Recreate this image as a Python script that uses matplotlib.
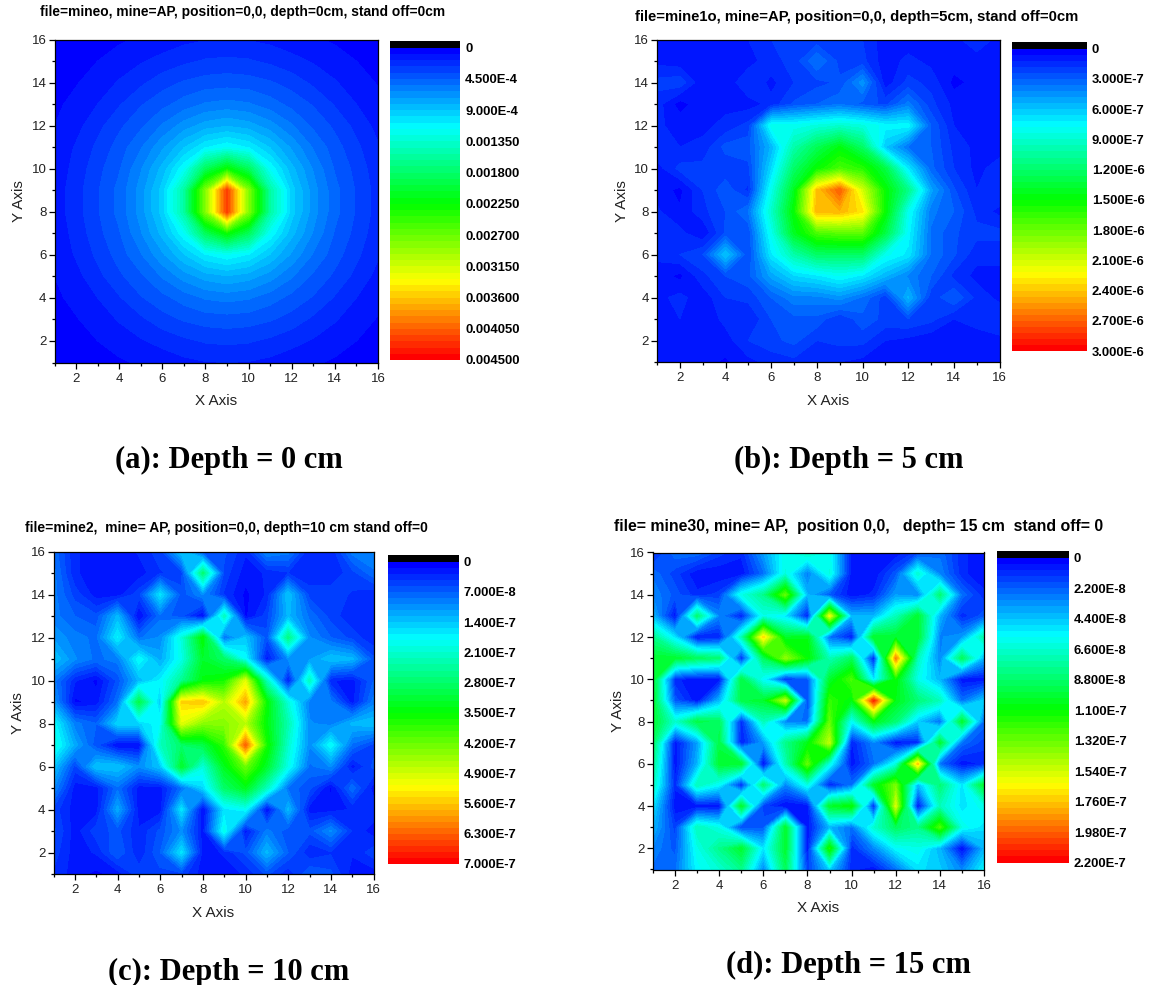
import matplotlib
matplotlib.use('Agg')
import matplotlib.pyplot as plt
import numpy as np
from matplotlib.colors import LinearSegmentedColormap

x = np.arange(1, 17)
y = np.arange(1, 17)

# rows run from y=16 down to y=1, columns x=1..16
# depth 0, in units of 1e-4
z_a = [
    [0.4, 0.55, 0.7, 0.8, 1.0, 1.25, 1.55, 1.75, 1.8, 1.75, 1.55, 1.25, 1.0, 0.8, 0.7, 0.55],
    [0.55, 0.7, 0.9, 1.2, 1.7, 2.1, 2.5, 2.8, 2.9, 2.8, 2.5, 2.1, 1.7, 1.2, 0.9, 0.7],
    [0.65, 0.85, 1.2, 1.9, 2.5, 3.2, 3.7, 4.0, 4.1, 4.0, 3.7, 3.2, 2.5, 1.9, 1.2, 0.85],
    [0.75, 1.1, 1.8, 2.6, 3.5, 4.2, 4.9, 5.5, 5.7, 5.5, 4.9, 4.2, 3.5, 2.6, 1.8, 1.1],
    [0.9, 1.5, 2.4, 3.4, 4.3, 5.5, 6.7, 7.6, 8.0, 7.6, 6.7, 5.5, 4.3, 3.4, 2.4, 1.5],
    [1.1, 1.9, 2.9, 4.0, 5.3, 7.0, 8.9, 10.7, 11.5, 10.7, 8.9, 7.0, 5.3, 4.0, 2.9, 1.9],
    [1.2, 2.1, 3.3, 4.4, 6.2, 8.4, 11.5, 18.5, 22.5, 18.5, 11.5, 8.4, 6.2, 4.4, 3.3, 2.1],
    [1.3, 2.3, 3.5, 4.8, 6.7, 9.4, 15.4, 28.0, 42.0, 28.0, 15.4, 9.4, 6.7, 4.8, 3.5, 2.3],
    [1.3, 2.3, 3.5, 4.8, 6.7, 9.4, 15.4, 28.0, 42.0, 28.0, 15.4, 9.4, 6.7, 4.8, 3.5, 2.3],
    [1.2, 2.1, 3.3, 4.4, 6.2, 8.4, 11.5, 18.5, 22.5, 18.5, 11.5, 8.4, 6.2, 4.4, 3.3, 2.1],
    [1.1, 1.9, 2.9, 4.0, 5.3, 7.0, 8.9, 10.7, 11.5, 10.7, 8.9, 7.0, 5.3, 4.0, 2.9, 1.9],
    [0.9, 1.5, 2.4, 3.4, 4.3, 5.5, 6.7, 7.6, 8.0, 7.6, 6.7, 5.5, 4.3, 3.4, 2.4, 1.5],
    [0.75, 1.1, 1.8, 2.6, 3.5, 4.2, 4.9, 5.5, 5.7, 5.5, 4.9, 4.2, 3.5, 2.6, 1.8, 1.1],
    [0.65, 0.85, 1.2, 1.9, 2.5, 3.2, 3.7, 4.0, 4.1, 4.0, 3.7, 3.2, 2.5, 1.9, 1.2, 0.85],
    [0.55, 0.7, 0.9, 1.2, 1.7, 2.1, 2.5, 2.8, 2.9, 2.8, 2.5, 2.1, 1.7, 1.2, 0.9, 0.7],
    [0.4, 0.55, 0.7, 0.8, 1.0, 1.25, 1.55, 1.75, 1.8, 1.75, 1.55, 1.25, 1.0, 0.8, 0.7, 0.55],
]

# depth 5, in units of 1e-7
z_b = [
    [1.0, 0.8, 0.8, 0.8, 1.2, 1.8, 2.0, 2.0, 2.0, 1.8, 0.8, 0.8, 0.8, 1.0, 1.6, 1.0],
    [1.0, 0.8, 0.7, 0.7, 0.9, 1.6, 2.0, 3.6, 2.2, 2.0, 0.8, 1.4, 1.0, 0.9, 0.9, 0.9],
    [2.0, 2.2, 0.7, 0.7, 1.8, 1.0, 1.8, 2.2, 2.5, 4.5, 0.8, 2.0, 1.6, 0.4, 0.8, 0.9],
    [1.5, 0.3, 1.0, 1.0, 0.9, 1.4, 2.5, 3.0, 3.5, 2.8, 2.2, 3.8, 2.0, 1.0, 0.9, 0.9],
    [1.3, 1.0, 1.0, 1.4, 2.0, 8.0, 8.0, 8.5, 9.0, 8.5, 7.5, 7.5, 3.0, 1.2, 1.0, 0.9],
    [1.8, 1.2, 1.4, 2.6, 2.8, 5.5, 10.0, 12.5, 14.5, 12.0, 6.0, 3.5, 3.0, 1.6, 1.0, 0.9],
    [0.9, 2.0, 2.0, 2.0, 2.2, 6.5, 12.0, 15.0, 17.0, 16.0, 13.0, 7.0, 3.2, 1.8, 1.0, 1.5],
    [1.0, 0.4, 1.8, 2.8, 1.6, 8.0, 14.0, 24.0, 27.0, 21.0, 15.0, 11.0, 5.0, 2.5, 1.2, 1.8],
    [1.3, 0.7, 1.6, 2.4, 3.6, 9.0, 15.0, 24.5, 24.5, 23.0, 15.0, 8.0, 3.8, 3.0, 1.6, 1.0],
    [1.4, 1.4, 0.6, 2.5, 2.5, 8.0, 14.0, 17.0, 17.5, 17.5, 13.0, 7.5, 3.5, 2.5, 2.0, 2.0],
    [1.3, 1.8, 2.4, 6.0, 2.4, 7.0, 10.0, 12.0, 12.0, 12.0, 8.0, 7.0, 3.5, 2.5, 1.4, 1.4],
    [1.0, 0.4, 1.6, 2.4, 2.8, 5.0, 6.5, 7.0, 7.8, 7.0, 5.5, 4.0, 3.0, 1.6, 1.0, 1.0],
    [1.0, 1.4, 0.8, 1.8, 2.0, 3.0, 4.0, 4.0, 4.5, 3.5, 2.0, 5.5, 2.0, 3.0, 1.6, 1.0],
    [0.8, 1.2, 0.7, 1.4, 1.2, 2.4, 2.8, 2.8, 1.8, 2.8, 2.2, 2.4, 2.0, 1.2, 1.6, 1.8],
    [0.7, 0.7, 1.0, 0.9, 1.8, 2.2, 2.6, 1.8, 2.0, 2.0, 1.2, 1.0, 0.7, 0.7, 0.7, 1.0],
    [0.6, 0.7, 0.8, 0.5, 1.0, 1.4, 1.6, 1.6, 1.2, 1.0, 0.8, 0.7, 0.7, 0.7, 0.7, 0.7],
]

# depth 10, in units of 1e-8
z_c = [
    [8, 3, 2, 2, 3, 5, 14, 6, 6, 3, 10, 9, 3, 3, 9, 10],
    [9, 3, 2, 2, 2, 4, 5, 27, 5, 2, 3, 4, 3, 3, 5, 8],
    [9, 5, 2, 2, 5, 16, 6, 10, 4, 1, 3, 14, 5, 5, 4, 3],
    [9, 7, 6, 13, 1, 8, 6, 1, 22, 1, 5, 13, 8, 5, 3, 3],
    [11, 9, 8, 17, 8, 10, 20, 35, 8, 14, 6, 26, 10, 7, 5, 3],
    [14, 10, 8, 9, 18, 12, 19, 32, 28, 18, 2, 10, 11, 14, 13, 6],
    [9, 3, 1, 6, 13, 17, 25, 34, 36, 50, 22, 2, 22, 3, 2, 7],
    [11, 1, 2, 8, 30, 14, 55, 56, 47, 58, 35, 20, 9, 9, 2, 9],
    [18, 9, 7, 15, 15, 18, 50, 44, 44, 47, 34, 23, 10, 9, 13, 14],
    [20, 12, 6, 1, 1, 22, 28, 30, 38, 63, 36, 21, 10, 18, 8, 5],
    [14, 5, 14, 14, 10, 14, 32, 20, 33, 42, 32, 19, 8, 10, 2, 6],
    [10, 2, 2, 8, 2, 2, 8, 15, 28, 33, 22, 8, 6, 1, 8, 2],
    [5, 2, 2, 12, 2, 2, 16, 1, 16, 18, 1, 13, 2, 2, 3, 4],
    [6, 2, 5, 6, 3, 6, 10, 2, 19, 2, 9, 6, 6, 10, 4, 2],
    [5, 2, 3, 7, 3, 7, 16, 2, 3, 6, 13, 7, 3, 4, 3, 5],
    [4, 2, 1, 2, 5, 5, 5, 2, 2, 3, 6, 3, 7, 6, 2, 2],
]

# depth 15, in units of 1e-9
z_d = [
    [10, 25, 25, 15, 10, 35, 60, 70, 60, 5, 5, 5, 15, 25, 10, 5],
    [25, 15, 5, 5, 5, 25, 62, 28, 62, 5, 5, 20, 65, 30, 10, 5],
    [30, 20, 10, 15, 60, 80, 130, 40, 20, 5, 10, 35, 30, 85, 25, 10],
    [40, 5, 85, 30, 8, 60, 50, 8, 160, 40, 40, 70, 100, 40, 10, 20],
    [80, 50, 5, 8, 70, 170, 100, 105, 25, 8, 100, 100, 100, 30, 35, 75],
    [100, 100, 90, 85, 12, 90, 140, 110, 70, 90, 8, 190, 70, 30, 90, 40],
    [100, 10, 5, 5, 95, 55, 10, 20, 100, 125, 50, 110, 60, 40, 5, 5],
    [100, 20, 5, 40, 95, 100, 150, 15, 120, 105, 210, 105, 85, 70, 25, 45],
    [100, 65, 95, 90, 10, 70, 30, 25, 130, 55, 105, 85, 45, 25, 100, 25],
    [90, 5, 35, 95, 8, 35, 80, 105, 150, 8, 30, 5, 10, 100, 25, 15],
    [80, 5, 40, 100, 100, 3, 70, 130, 60, 5, 25, 60, 175, 25, 5, 10],
    [70, 10, 70, 55, 10, 85, 30, 60, 8, 25, 100, 135, 40, 85, 50, 100],
    [50, 5, 5, 5, 100, 15, 3, 5, 100, 110, 10, 155, 5, 70, 50, 60],
    [40, 15, 70, 60, 15, 20, 100, 5, 40, 25, 65, 90, 80, 125, 60, 50],
    [30, 20, 60, 80, 100, 50, 100, 5, 115, 10, 30, 55, 60, 40, 3, 40],
    [25, 25, 55, 65, 80, 30, 90, 15, 45, 10, 5, 25, 50, 45, 30, 55],
]

vmax_list = [45, 30, 70, 220]
bar_ticks = [
    [0, 4.5, 9, 13.5, 18, 22.5, 27, 31.5, 36, 40.5, 45],
    [0, 3, 6, 9, 12, 15, 18, 21, 24, 27, 30],
    [0, 7, 14, 21, 28, 35, 42, 49, 56, 63, 70],
    [0, 22, 44, 66, 88, 110, 132, 154, 176, 198, 220],
]
bar_labels = [
    ['0', '4.500E-4', '9.000E-4', '0.001350', '0.001800', '0.002250', '0.002700',
     '0.003150', '0.003600', '0.004050', '0.004500'],
    ['0', '3.000E-7', '6.000E-7', '9.000E-7', '1.200E-6', '1.500E-6', '1.800E-6',
     '2.100E-6', '2.400E-6', '2.700E-6', '3.000E-6'],
    ['0', '7.000E-8', '1.400E-7', '2.100E-7', '2.800E-7', '3.500E-7', '4.200E-7',
     '4.900E-7', '5.600E-7', '6.300E-7', '7.000E-7'],
    ['0', '2.200E-8', '4.400E-8', '6.600E-8', '8.800E-8', '1.100E-7', '1.320E-7',
     '1.540E-7', '1.760E-7', '1.980E-7', '2.200E-7'],
]
titles = [
    'file=mineo, mine=AP, position=0,0, depth=0cm, stand off=0cm',
    'file=mine1o, mine=AP, position=0,0, depth=5cm, stand off=0cm',
    'file=mine2,  mine= AP, position=0,0, depth=10 cm stand off=0',
    'file= mine30, mine= AP,  position 0,0,   depth= 15 cm  stand off= 0',
]
captions = ['(a): Depth = 0 cm', '(b): Depth = 5 cm', '(c): Depth = 10 cm', '(d): Depth = 15 cm']

W, H = 1156, 985
plt.rcParams['font.family'] = ['Liberation Sans', 'DejaVu Sans']

# pixel boxes: left, right, top, bottom
ax_boxes = [(54.5, 378, 39.5, 362.5), (657, 999.5, 39.5, 362),
            (53.5, 373.5, 551.5, 874), (653, 984, 552.5, 869.5)]
bar_boxes = [(390, 460, 41, 360), (1012, 1087, 42, 351),
             (388, 458.5, 555, 864), (997, 1069, 551, 862.5)]
title_pos = [(40, 12), (635, 17), (25, 528), (614, 526)]
title_size = [9.95, 10.7, 10, 11.4]
cap_pos = [(229, 460), (849, 460), (229, 972), (848, 965)]
xlabel_y = [401, 401, 913, 908]

cmap = LinearSegmentedColormap.from_list(
    'origin_rainbow', ['#0000ff', '#00ffff', '#00ff00', '#ffff00', '#ff0000'], N=50)
cmap.set_under('black')


def pix_axes(fig, box):
    l, r, t, b = box
    return fig.add_axes([l / W, 1 - b / H, (r - l) / W, (b - t) / H])


fig = plt.figure(figsize=(W / 100, H / 100), dpi=100)

for i, z in enumerate([z_a, z_b, z_c, z_d]):
    zz = np.array(z, dtype=float)[::-1]
    vmax = vmax_list[i]
    levels = np.linspace(0, vmax, 51)

    ax = pix_axes(fig, ax_boxes[i])
    cs = ax.contourf(x, y, zz, levels=levels, cmap=cmap, extend='min')
    ax.set_xlim(1, 16)
    ax.set_ylim(1, 16)
    ax.set_xticks(np.arange(2, 17, 2))
    ax.set_xticks(np.arange(1, 17, 2), minor=True)
    ax.set_yticks(np.arange(2, 17, 2))
    ax.set_yticks(np.arange(1, 16, 2), minor=True)
    ax.tick_params(which='major', direction='out', length=4.3, width=0.9,
                   labelsize=9.5, pad=3.2, labelcolor='#222222')
    ax.tick_params(axis='y', which='major', pad=1.5)
    ax.tick_params(which='minor', direction='out', length=2.2, width=0.9)
    for s in ax.spines.values():
        s.set_linewidth(0.9)
    ax.set_ylabel('Y Axis', fontsize=11, labelpad=4, color='#222222')
    l, r, t, b = ax_boxes[i]
    fig.text((l + r) / 2 / W, 1 - xlabel_y[i] / H, 'X Axis', fontsize=11,
             color='#222222', ha='center', va='center')

    bl, br, bt, bb = bar_boxes[i]
    cax = pix_axes(fig, bar_boxes[i])
    cb = fig.colorbar(cs, cax=cax, extendrect=True, extendfrac=6.7 / (bb - bt - 6.7))
    cax.invert_yaxis()
    cb.outline.set_visible(False)
    cb.set_ticks(bar_ticks[i], labels=bar_labels[i])
    cax.tick_params(length=0, pad=3.6, labelsize=9.4)
    for lab in cax.get_yticklabels():
        lab.set_fontweight('bold')

    fig.text(title_pos[i][0] / W, 1 - title_pos[i][1] / H, titles[i], fontsize=title_size[i],
             fontweight='bold', ha='left', va='center')
    fig.text(cap_pos[i][0] / W, 1 - cap_pos[i][1] / H, captions[i], fontsize=22,
             fontweight='bold', family='Liberation Serif', ha='center', va='center')

fig.savefig('out.png', dpi=100)
